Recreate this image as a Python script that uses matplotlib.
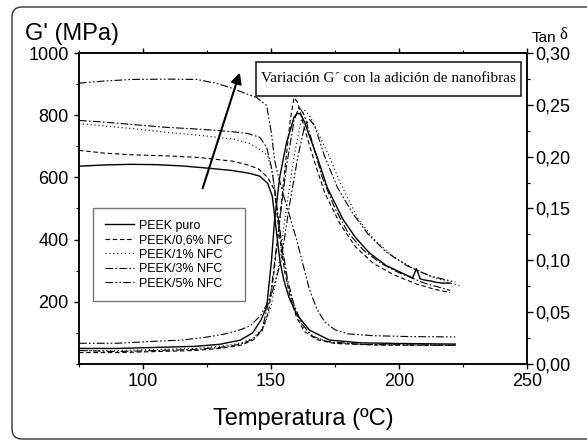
import matplotlib
matplotlib.use("Agg")
import matplotlib.pyplot as plt
from matplotlib.ticker import MultipleLocator, FixedLocator, FuncFormatter
from matplotlib.patches import FancyBboxPatch, Rectangle
from matplotlib.transforms import IdentityTransform

plt.rcParams['font.family'] = ['Liberation Sans', 'DejaVu Sans']

# ---------------- data ----------------
labels = ["PEEK puro", "PEEK/0,6% NFC", "PEEK/1% NFC", "PEEK/3% NFC", "PEEK/5% NFC"]

# Storage modulus G' (MPa)
T_gp_puro = [75, 85, 95, 105, 115, 125, 135, 141.7, 145.6, 148.7, 150.5, 151.5, 152.5, 153.5, 155, 157, 160, 165, 172.8, 185, 200, 210, 222]
gp_puro = [636, 640, 642, 641, 637, 630, 622, 613, 604, 581, 540, 470, 400, 330, 270, 215, 160, 109, 77, 68, 66, 65, 64]

T_gp_06 = [75, 85, 95, 110, 122, 135, 141, 145, 148.7, 151.4, 152.5, 154, 155.5, 157.5, 160, 163, 168, 175, 190, 222]
gp_06 = [687, 678, 673, 669, 664, 652, 640, 628, 600, 559, 470, 370, 290, 215, 150, 105, 78, 66, 61, 60]

T_gp_1 = [75, 83, 96, 109, 120, 129, 136, 141.7, 145.6, 148.7, 150.6, 152, 153.5, 155, 157, 159.5, 162.5, 167, 174, 190, 222]
gp_1 = [773, 767, 757, 745, 737, 729, 722, 709, 690, 670, 613, 520, 420, 330, 240, 170, 120, 85, 68, 62, 60]

T_gp_3 = [75, 83, 96, 109, 120, 129, 136, 141, 145.6, 148.3, 150.2, 151.5, 153, 154.5, 156.5, 159, 162, 166, 172, 185, 222]
gp_3 = [783, 779, 770, 761, 756, 751, 746, 741, 729, 697, 632, 560, 460, 370, 270, 190, 130, 90, 72, 63, 60]

T_gp_5 = [75, 85, 96, 110, 121, 129, 135, 140, 144.4, 148.3, 150.2, 151.4, 153, 155, 157.5, 160, 162.5, 165, 168, 171, 175, 180, 190, 205, 222]
gp_5 = [903, 910, 915, 916, 915, 902, 886, 870, 857, 831, 741, 655, 600, 540, 470, 400, 320, 240, 175, 135, 110, 97, 91, 88, 87]

# Tan delta
T_tan_puro = [75, 90, 105, 120, 130, 138, 142.8, 146, 148.3, 150.2, 151.4, 153.4, 156, 159, 160.4, 161.5, 163, 165, 168, 172, 178, 183, 188.5, 195, 201, 205.3, 206.8, 208.3, 210, 212.6, 214, 217, 220]
tan_puro = [0.015, 0.015, 0.016, 0.017, 0.019, 0.023, 0.030, 0.042, 0.055, 0.100, 0.139, 0.180, 0.213, 0.238, 0.242, 0.241, 0.234, 0.220, 0.200, 0.170, 0.140, 0.122, 0.107, 0.095, 0.088, 0.083, 0.092, 0.082, 0.081, 0.080, 0.079, 0.078, 0.078]

T_tan_06 = [75, 90, 105, 120, 130, 138, 143, 146.5, 149, 151, 153, 155.5, 157.5, 159, 160.5, 163, 167, 171, 177, 183, 190, 198, 207, 214, 220]
tan_06 = [0.011, 0.011, 0.012, 0.013, 0.015, 0.018, 0.023, 0.032, 0.050, 0.085, 0.130, 0.190, 0.235, 0.257, 0.252, 0.228, 0.195, 0.165, 0.135, 0.113, 0.097, 0.086, 0.077, 0.072, 0.069]

T_tan_1 = [75, 90, 105, 120, 130, 138, 143, 147, 150, 153, 156, 159, 161.5, 163, 165, 168, 172.8, 177, 184, 190, 197, 205, 213, 219, 224]
tan_1 = [0.013, 0.013, 0.014, 0.015, 0.017, 0.020, 0.025, 0.035, 0.055, 0.095, 0.150, 0.200, 0.232, 0.245, 0.240, 0.225, 0.200, 0.175, 0.140, 0.121, 0.105, 0.093, 0.084, 0.079, 0.075]

T_tan_3 = [75, 90, 105, 120, 130, 138, 143, 146.5, 150, 153, 156, 159, 161, 163, 166, 170, 175, 180, 186, 193, 200, 210, 220]
tan_3 = [0.013, 0.012, 0.013, 0.014, 0.016, 0.019, 0.024, 0.033, 0.070, 0.130, 0.190, 0.235, 0.248, 0.240, 0.215, 0.180, 0.150, 0.127, 0.110, 0.097, 0.088, 0.078, 0.071]

T_tan_5 = [75, 90, 105, 115, 125, 132, 138, 142, 146, 150, 154, 157, 160.5, 163, 165, 167, 171, 176, 182, 188, 195, 203, 212, 222]
tan_5 = [0.020, 0.020, 0.022, 0.023, 0.026, 0.029, 0.033, 0.037, 0.047, 0.065, 0.100, 0.150, 0.200, 0.228, 0.236, 0.230, 0.200, 0.170, 0.145, 0.125, 0.108, 0.095, 0.085, 0.079]

x_ticks = [100, 150, 200, 250]
left_ticks = [200, 400, 600, 800, 1000]
right_ticks = [0.00, 0.05, 0.10, 0.15, 0.20, 0.25, 0.30]

# ---------------- styles ----------------
styles = ['-', (0, (4, 2.5)), (0, (1, 2.5)), (0, (7, 2, 1.5, 2)), (0, (7, 2, 1.5, 2, 1.5, 2))]
lws = [1.0, 0.8, 0.8, 0.8, 0.8]

W, H = 587, 440
fig = plt.figure(figsize=(W / 100, H / 100), dpi=100)
L, R, B, Tp = 79, 527, 364, 53
ax = fig.add_axes([L / W, 1 - B / H, (R - L) / W, (B - Tp) / H])
ax2 = ax.twinx()

gp_T = [T_gp_puro, T_gp_06, T_gp_1, T_gp_3, T_gp_5]
gp_V = [gp_puro, gp_06, gp_1, gp_3, gp_5]
tan_T = [T_tan_puro, T_tan_06, T_tan_1, T_tan_3, T_tan_5]
tan_V = [tan_puro, tan_06, tan_1, tan_3, tan_5]

handles = []
for i in range(5):
    h, = ax.plot(gp_T[i], gp_V[i], color='black', linestyle=styles[i], lw=lws[i], label=labels[i])
    handles.append(h)
    ax2.plot(tan_T[i], tan_V[i], color='black', linestyle=styles[i], lw=lws[i])

ax.set_xlim(75, 250)
ax.set_ylim(0, 1000)
ax2.set_ylim(0, 0.30)

ax.xaxis.set_major_locator(FixedLocator(x_ticks))
ax.xaxis.set_minor_locator(MultipleLocator(25))
ax.yaxis.set_major_locator(FixedLocator(left_ticks))
ax.yaxis.set_minor_locator(MultipleLocator(100))
ax2.yaxis.set_major_locator(FixedLocator(right_ticks))
ax2.yaxis.set_minor_locator(MultipleLocator(0.025))
ax2.yaxis.set_major_formatter(FuncFormatter(lambda v, p: f"{v:.2f}".replace('.', ',')))

for a in (ax, ax2):
    for s in a.spines.values():
        s.set_linewidth(1.1)
ax.tick_params(axis='both', which='major', direction='out', length=3.5, width=1.0, labelsize=13)
ax.tick_params(axis='both', which='minor', direction='out', length=2, width=0.8)
ax.tick_params(axis='y', which='both', pad=4)
ax.tick_params(axis='x', which='both', pad=3, top=True)
ax2.tick_params(axis='y', which='major', direction='out', length=4, width=1.0, labelsize=13, pad=2)
ax2.tick_params(axis='y', which='minor', direction='out', length=2, width=0.8)

fig.text(25 / W, 1 - 34 / H, "G' (MPa)", fontsize=17, ha='left', va='center')
fig.text((L + R) / 2 / W, 1 - 419 / H, "Temperatura (ºC)", fontsize=17, ha='center', va='center')
fig.text(532 / W, 1 - 38 / H, "Tan", fontsize=11, ha='left', va='center')
fig.text(559 / W, 1 - 35 / H, "δ", fontsize=12, ha='left', va='center', family=['Liberation Serif', 'DejaVu Serif'])

# annotation box
bx0, bx1, by0, by1 = 256, 521, 96, 62
ax2.add_patch(Rectangle(((bx0 - L) / (R - L), (B - by0) / (B - Tp)), (bx1 - bx0) / (R - L), (by0 - by1) / (B - Tp),
                        transform=ax2.transAxes, fill=True, facecolor='white', edgecolor='#222222', lw=1.2, zorder=5))
ax2.text(((bx0 + bx1) / 2 - L) / (R - L), (B - (by0 + by1) / 2) / (B - Tp),
         "Variación G´ con la adición de nanofibras", transform=ax2.transAxes,
         ha='center', va='center', fontsize=11, family=['Liberation Serif', 'DejaVu Serif'], zorder=6)

# arrow
ax.annotate("", xy=(137.8, 937), xytext=(123.3, 565),
            arrowprops=dict(arrowstyle='-|>', lw=1.5, color='black', mutation_scale=16,
                            shrinkA=0, shrinkB=0))

leg = ax2.legend(handles=handles, loc='upper left', bbox_to_anchor=((93 - L) / (R - L), (B - 208) / (B - Tp)),
                 borderaxespad=0, fontsize=8.9, frameon=True, fancybox=False, edgecolor='#555555',
                 handlelength=2.4, handletextpad=0.4, labelspacing=0.2, borderpad=0.95)
leg.get_frame().set_linewidth(1.0)

fig.add_artist(FancyBboxPatch((12, 1), 620, 432, boxstyle="round,pad=0,rounding_size=10",
                              transform=IdentityTransform(), fill=False, ec='#333333', lw=1.0))

fig.savefig("out.png", dpi=100)
